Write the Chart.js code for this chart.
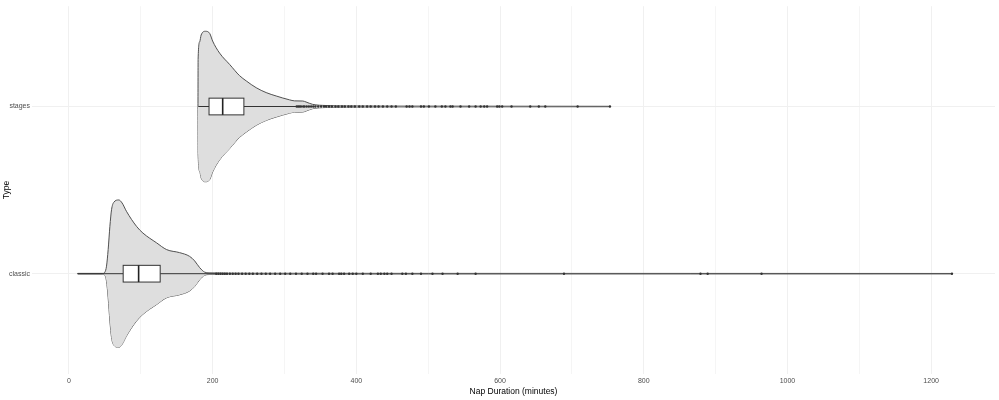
<!DOCTYPE html>
<html>
<head>
<meta charset="utf-8">
<script src="https://cdn.jsdelivr.net/npm/chart.js@4"></script>
<style>
  body { margin: 0; background: #fff; }
</style>
</head>
<body>
<canvas id="napChart" width="999" height="400"></canvas>
<script>
// categories on the y axis (bottom to top)
const categories = ['classic', 'stages'];

// violin outlines: x positions (minutes) and relative half-width (1 = widest)
const classicX = [12, 12.2, 47, 50, 52.3, 54.6, 57, 59.3, 62.5, 69.4, 74, 80, 94, 103, 122, 136, 154, 168, 175, 182, 189, 195, 250, 500, 1229, 1229.2];
const classicDensity = [0, 0.004, 0.004, 0.02, 0.10, 0.32, 0.63, 0.85, 0.95, 0.98, 0.94, 0.83, 0.63, 0.54, 0.41, 0.32, 0.28, 0.23, 0.17, 0.08, 0.02, 0.011, 0.006, 0.004, 0.003, 0];
const stagesX = [179.6, 179.8, 182, 184, 190, 196, 200, 209.7, 223.6, 237.5, 246.8, 260.6, 274.5, 288.4, 306.9, 314, 325.5, 330, 339, 358, 386, 500, 753, 753.2];
const stagesDensity = [0, 0.63, 0.86, 0.95, 1.0, 0.97, 0.87, 0.71, 0.56, 0.41, 0.34, 0.25, 0.185, 0.14, 0.089, 0.075, 0.073, 0.06, 0.029, 0.013, 0.008, 0.005, 0.003, 0];

// boxplot stats, same order as categories
const q1 = [75.5, 195];
const median = [97, 214];
const q3 = [127, 243.5];
const whiskerLow = [12, 180];
const whiskerHigh = [204, 316];

// outliers
const classicOutliers = [205, 208, 211, 214, 217, 220, 224, 228, 232, 236, 241, 246, 251, 256, 262, 268, 274, 280, 287, 294, 301, 308, 316, 324, 332, 340, 344,
  353, 362, 367, 376, 379, 383, 390, 395, 400, 409, 420, 430, 434, 439, 443, 449, 464, 469, 478, 490, 506, 520, 541, 566, 689, 879, 889, 964, 1229];
const stagesOutliers = [317, 319, 321, 323, 326, 328, 331, 334, 337, 340, 343, 347, 351, 355, 358, 362, 366, 371, 375, 380, 384, 389, 393, 398, 404, 409, 415, 420,
  426, 431, 437, 443, 449, 455, 470, 474, 478, 490, 494, 501, 510, 519, 524, 531, 534, 545, 557, 566, 573, 578, 582, 596, 599, 603, 616, 642, 654, 663, 708, 753];

const xTicks = [0, 200, 400, 600, 800, 1000, 1200];

const violinWidth = 0.45;
const boxHalf = 0.05;

function violinSets(xs, dens, pos) {
  const upper = xs.map((x, i) => ({ x: x, y: pos + dens[i] * violinWidth }));
  const lower = xs.map((x, i) => ({ x: x, y: pos - dens[i] * violinWidth }));
  const common = {
    showLine: true,
    pointRadius: 0,
    borderColor: '#505050',
    borderWidth: 1,
    cubicInterpolationMode: 'monotone',
    order: 2
  };
  return [
    Object.assign({ data: upper, fill: '+1', backgroundColor: '#dedede' }, common),
    Object.assign({ data: lower, fill: false }, common)
  ];
}

const datasets = [
  ...violinSets(classicX, classicDensity, 1),
  ...violinSets(stagesX, stagesDensity, 2),
  {
    data: classicOutliers.map(v => ({ x: v, y: 1 })).concat(stagesOutliers.map(v => ({ x: v, y: 2 }))),
    pointRadius: 1.2,
    pointBackgroundColor: '#333',
    pointBorderWidth: 0,
    showLine: false,
    order: 1
  }
];

const boxPlugin = {
  id: 'boxes',
  afterDatasetsDraw(chart) {
    const ctx = chart.ctx;
    const xs = chart.scales.x, ys = chart.scales.y;
    ctx.save();
    categories.forEach((c, i) => {
      const pos = i + 1;
      const yc = ys.getPixelForValue(pos);
      const yt = ys.getPixelForValue(pos + boxHalf);
      const yb = ys.getPixelForValue(pos - boxHalf);
      ctx.strokeStyle = '#333';
      ctx.lineWidth = 1;
      ctx.beginPath();
      ctx.moveTo(xs.getPixelForValue(whiskerLow[i]), yc);
      ctx.lineTo(xs.getPixelForValue(q1[i]), yc);
      ctx.moveTo(xs.getPixelForValue(q3[i]), yc);
      ctx.lineTo(xs.getPixelForValue(whiskerHigh[i]), yc);
      ctx.stroke();
      const x1 = xs.getPixelForValue(q1[i]);
      const x3 = xs.getPixelForValue(q3[i]);
      ctx.fillStyle = '#fff';
      ctx.fillRect(x1, yt, x3 - x1, yb - yt);
      ctx.strokeRect(x1, yt, x3 - x1, yb - yt);
      const xm = xs.getPixelForValue(median[i]);
      ctx.lineWidth = 1.6;
      ctx.strokeStyle = '#222';
      ctx.beginPath();
      ctx.moveTo(xm, yt);
      ctx.lineTo(xm, yb);
      ctx.stroke();
    });
    ctx.restore();
  }
};

const tickFont = { family: 'Liberation Sans', size: 7 };
const titleFont = { family: 'Liberation Sans', size: 8.5 };

new Chart(document.getElementById('napChart'), {
  type: 'scatter',
  data: { datasets: datasets },
  plugins: [boxPlugin],
  options: {
    responsive: false,
    animation: false,
    layout: { padding: { top: 4, right: 2, left: 0, bottom: 0 } },
    plugins: { legend: { display: false }, tooltip: { enabled: false } },
    scales: {
      x: {
        type: 'linear',
        min: -51.4,
        max: 1288.9,
        afterBuildTicks: s => { s.ticks = [-100, 0, 100, 200, 300, 400, 500, 600, 700, 800, 900, 1000, 1100, 1200]
          .filter(v => v >= s.min && v <= s.max).map(v => ({ value: v })); },
        afterFit: s => { s.height = 26; },
        border: { display: false },
        grid: {
          drawTicks: false,
          color: c => xTicks.includes(c.tick.value) ? '#f0f0f0' : '#f5f5f5',
          lineWidth: 1
        },
        ticks: {
          padding: 3,
          color: '#4d4d4d',
          font: tickFont,
          maxRotation: 0,
          autoSkip: false,
          callback: v => xTicks.includes(v) ? String(v) : ''
        },
        title: {
          display: true,
          text: 'Nap Duration (minutes)',
          color: '#000',
          font: titleFont,
          padding: { top: 0, bottom: 3 }
        }
      },
      y: {
        type: 'linear',
        min: 0.4,
        max: 2.6,
        afterBuildTicks: s => { s.ticks = categories.map((c, i) => ({ value: i + 1 })); },
        afterFit: s => { s.width = 32; },
        border: { display: false },
        grid: { drawTicks: false, color: '#f0f0f0', lineWidth: 1 },
        ticks: {
          padding: 2,
          color: '#4d4d4d',
          font: tickFont,
          callback: v => categories[v - 1]
        },
        title: {
          display: true,
          text: 'Type',
          color: '#000',
          font: titleFont,
          padding: { top: 2, bottom: 0 }
        }
      }
    }
  }
});
</script>
</body>
</html>
